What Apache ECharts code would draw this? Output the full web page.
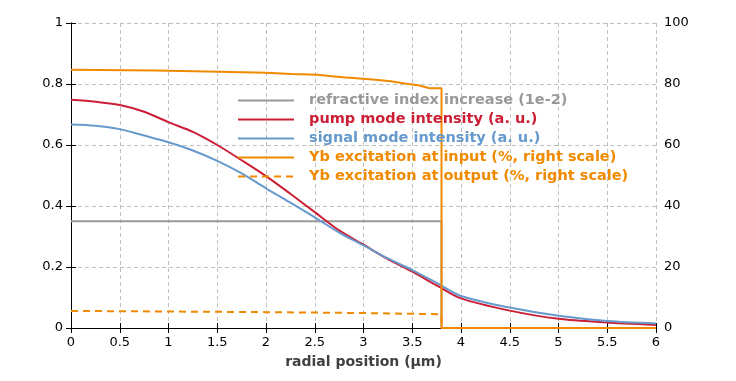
<!DOCTYPE html>
<html>
<head>
<meta charset="utf-8">
<script src="https://cdn.jsdelivr.net/npm/echarts@6/dist/echarts.min.js"></script>
<style>
html,body{margin:0;padding:0;background:#fff;}
#chart{width:736px;height:381px;}
</style>
</head>
<body>
<div id="chart"></div>
<script>
// ---- data ----
var seriesNames = [
  'refractive index increase (1e-2)',
  'pump mode intensity (a. u.)',
  'signal mode intensity (a. u.)',
  'Yb excitation at input (%, right scale)',
  'Yb excitation at output (%, right scale)'
];
var radius = [0, 0.25, 0.5, 0.75, 1, 1.25, 1.5, 1.75, 2, 2.25, 2.5, 2.75, 3, 3.25, 3.5, 3.75, 4, 4.5, 5, 5.5, 6];
var pump   = [0.748, 0.742, 0.731, 0.709, 0.675, 0.643, 0.600, 0.550, 0.498, 0.440, 0.380, 0.320, 0.273, 0.226, 0.185, 0.140, 0.097, 0.057, 0.030, 0.018, 0.010];
var signal = [0.667, 0.663, 0.652, 0.631, 0.609, 0.582, 0.548, 0.507, 0.458, 0.411, 0.363, 0.313, 0.271, 0.228, 0.190, 0.148, 0.105, 0.067, 0.040, 0.023, 0.015];

var indexX = [0, 3.8, 3.8, 6];
var indexY = [0.35, 0.35, 0, 0];

var ybInX = [0, 0.87, 1.52, 2.0, 2.26, 2.53, 2.65, 2.79, 3.03, 3.15, 3.28, 3.44, 3.56, 3.68, 3.8, 3.8, 6];
var ybInY = [84.7, 84.4, 84.0, 83.7, 83.3, 83.0, 82.6, 82.2, 81.6, 81.3, 80.9, 80.1, 79.6, 78.6, 78.6, 0, 0];

var ybOutX = [0, 2.0, 3.03, 3.8, 3.8, 6];
var ybOutY = [5.6, 5.2, 4.9, 4.5, 0, 0];

var xTicks = [0, 0.5, 1, 1.5, 2, 2.5, 3, 3.5, 4, 4.5, 5, 5.5, 6];
var leftTicks = [0, 0.2, 0.4, 0.6, 0.8, 1];
var rightTicks = [0, 20, 40, 60, 80, 100];

var colors = ['#999999', '#cc1f36', '#6699cc', '#f08a00', '#f08a00'];

function zip(a, b) { return a.map(function (v, i) { return [v, b[i]]; }); }

var chart = echarts.init(document.getElementById('chart'), null, {renderer: 'canvas'});
var gridDash = {color: '#c0c0c0', type: [4, 3], width: 1};
var font = 'DejaVu Sans, Verdana, sans-serif';

var option = {
  backgroundColor: '#fff',
  animation: false,
  grid: {left: 71, right: 80, top: 23, bottom: 53, containLabel: false},
  legend: {
    orient: 'vertical',
    left: 237, top: 93, padding: 0,
    itemWidth: 56, itemHeight: 14, itemGap: 4,
    itemStyle: {opacity: 0},
    data: seriesNames.map(function (n, i) {
      return {name: n, textStyle: {color: colors[i]}};
    }),
    textStyle: {fontFamily: font, fontSize: 14.5, fontWeight: 'bold', padding: [0, 0, 0, 10], lineHeight: 14},
    selectedMode: false
  },
  xAxis: [{
    type: 'value', min: 0, max: 6, interval: 0.5, position: 'bottom',
    name: 'radial position (µm)', nameLocation: 'middle', nameGap: 27,
    nameTextStyle: {fontFamily: font, fontSize: 14, fontWeight: 'bold', color: '#404040'},
    axisLine: {show: true, lineStyle: {color: '#000', width: 1}},
    axisTick: {show: true, inside: true, length: 5, lineStyle: {color: '#000'}},
    axisLabel: {margin: 8, fontFamily: font, fontSize: 13, color: '#000',
      formatter: function (v) { return xTicks.indexOf(v) >= 0 ? String(v) : ''; }},
    splitLine: {show: true, lineStyle: gridDash}
  }, {
    type: 'value', min: 0, max: 6, interval: 0.5, position: 'top',
    axisLine: {show: true, lineStyle: {color: '#000', width: 1}},
    axisTick: {show: true, inside: true, length: 5, lineStyle: {color: '#000'}},
    axisLabel: {show: false}, splitLine: {show: false}
  }],
  yAxis: [{
    type: 'value', min: 0, max: 1, interval: 0.2, position: 'left',
    axisLine: {show: true, lineStyle: {color: '#000', width: 1}},
    axisTick: {show: true, inside: true, length: 5, lineStyle: {color: '#000'}},
    axisLabel: {margin: 8, fontFamily: font, fontSize: 13, color: '#000',
      formatter: function (v) { var r = Math.round(v * 10) / 10; return leftTicks.indexOf(r) >= 0 ? String(r) : ''; }},
    splitLine: {show: true, lineStyle: gridDash}
  }, {
    type: 'value', min: 0, max: 100, interval: 20, position: 'right',
    axisLine: {show: true, lineStyle: {color: '#000', width: 1}},
    axisTick: {show: true, inside: true, length: 5, lineStyle: {color: '#000'}},
    axisLabel: {margin: 8, fontFamily: font, fontSize: 13, color: '#000',
      formatter: function (v) { return rightTicks.indexOf(v) >= 0 ? String(v) : ''; }},
    splitLine: {show: false}
  }],
  series: [{
    name: seriesNames[0], type: 'line', xAxisIndex: 0, yAxisIndex: 0,
    data: zip(indexX, indexY), symbol: 'none',
    lineStyle: {color: colors[0], width: 2}, itemStyle: {color: colors[0]}
  }, {
    name: seriesNames[1], type: 'line', xAxisIndex: 0, yAxisIndex: 0,
    data: zip(radius, pump), symbol: 'none', smooth: 0.3,
    lineStyle: {color: colors[1], width: 2}, itemStyle: {color: colors[1]}
  }, {
    name: seriesNames[2], type: 'line', xAxisIndex: 0, yAxisIndex: 0,
    data: zip(radius, signal), symbol: 'none', smooth: 0.3,
    lineStyle: {color: colors[2], width: 2}, itemStyle: {color: colors[2]}
  }, {
    name: seriesNames[4], type: 'line', xAxisIndex: 0, yAxisIndex: 1,
    data: zip(ybOutX, ybOutY), symbol: 'none',
    lineStyle: {color: colors[4], width: 2, type: [7, 5]}, itemStyle: {color: colors[4]}
  }, {
    name: seriesNames[3], type: 'line', xAxisIndex: 0, yAxisIndex: 1,
    data: zip(ybInX, ybInY), symbol: 'none',
    lineStyle: {color: colors[3], width: 2}, itemStyle: {color: colors[3]}
  }]
};
chart.setOption(option);
</script>
</body>
</html>
